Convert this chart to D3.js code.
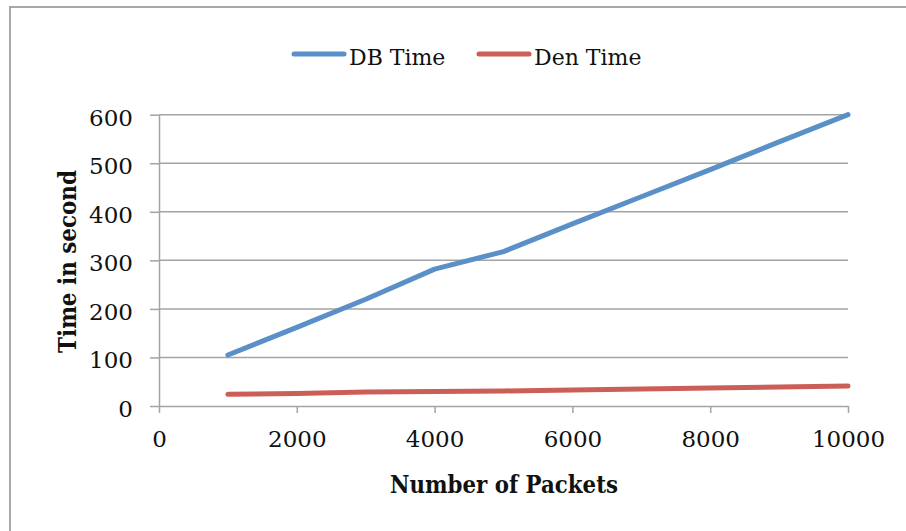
<!DOCTYPE html>
<html>
<head>
<meta charset="utf-8">
<script src="https://cdn.jsdelivr.net/npm/d3@7/dist/d3.min.js"></script>
<style>
  html, body { margin: 0; padding: 0; background: #fff; }
  svg { display: block; }
</style>
</head>
<body>
<svg id="chart" width="906" height="531"></svg>
<script>
// Packet counts on the x axis
const packets = [1000, 2000, 3000, 4000, 5000, 6000, 7000, 8000, 9000, 10000];
// Processing times in seconds
const dbTime  = [105, 162, 220, 282, 318, 375, 431, 487, 544, 600];
const denTime = [24, 26, 29, 30, 31, 33, 35, 37, 39, 41];
// Axis ticks
const xTicks = [0, 2000, 4000, 6000, 8000, 10000];
const yTicks = [0, 100, 200, 300, 400, 500, 600];

const seriesNames = ["DB Time", "Den Time"];
const seriesColors = ["#5a8fc8", "#cb5f58"];
const seriesValues = [dbTime, denTime];

const svg = d3.select("#chart");
const font = "'DejaVu Serif', serif";
const gridColor = "#a3a3a3";

// outer frame
svg.append("rect")
  .attr("x", 10).attr("y", 7)
  .attr("width", 920).attr("height", 560)
  .attr("fill", "none").attr("stroke", "#a8a8a8").attr("stroke-width", 2);

const x = d3.scaleLinear().domain([0, 10000]).range([159, 848]);
const y = d3.scaleLinear().domain([0, 600]).range([406, 114.7]);

// horizontal gridlines
svg.append("g")
  .selectAll("line")
  .data(yTicks.filter(d => d > 0))
  .join("line")
  .attr("x1", x(0)).attr("x2", x(10000))
  .attr("y1", d => y(d)).attr("y2", d => y(d))
  .attr("stroke", gridColor).attr("stroke-width", 1.5);

// y axis
const yAxis = svg.append("g")
  .attr("transform", `translate(${x(0)},0)`)
  .call(d3.axisLeft(y).tickValues(yTicks).tickFormat(d3.format("d"))
    .tickSize(9).tickPadding(17).tickSizeOuter(0));
yAxis.select(".domain").attr("stroke", gridColor).attr("stroke-width", 1.5);
yAxis.selectAll(".tick line").attr("stroke", gridColor).attr("stroke-width", 1.5);
yAxis.selectAll(".tick text")
  .attr("font-family", font).attr("font-size", 23).attr("fill", "#111")
  .attr("dy", "0.45em");

// x axis
const xAxis = svg.append("g")
  .attr("transform", `translate(0,${y(0)})`)
  .call(d3.axisBottom(x).tickValues(xTicks).tickFormat(d3.format("d"))
    .tickSize(7).tickPadding(18).tickSizeOuter(0));
xAxis.select(".domain").attr("stroke", gridColor).attr("stroke-width", 1.5);
xAxis.selectAll(".tick line").attr("stroke", gridColor).attr("stroke-width", 1.5);
xAxis.selectAll(".tick text")
  .attr("font-family", font).attr("font-size", 23).attr("fill", "#111");

// series lines
const line = d3.line()
  .x((d, i) => x(packets[i]))
  .y(d => y(d));

seriesValues.forEach((vals, k) => {
  svg.append("path")
    .datum(vals)
    .attr("d", line)
    .attr("fill", "none")
    .attr("stroke", seriesColors[k])
    .attr("stroke-width", 5)
    .attr("stroke-linejoin", "round")
    .attr("stroke-linecap", "round");
});

// axis titles
svg.append("text")
  .attr("x", 504).attr("y", 493)
  .attr("text-anchor", "middle")
  .attr("font-family", font).attr("font-weight", "bold").attr("font-size", 24)
  .attr("textLength", 228).attr("lengthAdjust", "spacingAndGlyphs")
  .attr("fill", "#111")
  .text("Number of Packets");

svg.append("text")
  .attr("transform", "translate(76,261.5) rotate(-90)")
  .attr("text-anchor", "middle")
  .attr("font-family", font).attr("font-weight", "bold").attr("font-size", 25)
  .attr("textLength", 183).attr("lengthAdjust", "spacingAndGlyphs")
  .attr("fill", "#111")
  .text("Time in second");

// legend
const legendX = [292, 477];
const legend = svg.append("g");
seriesNames.forEach((name, k) => {
  legend.append("line")
    .attr("x1", legendX[k] + 2).attr("x2", legendX[k] + 52)
    .attr("y1", 54).attr("y2", 54)
    .attr("stroke", seriesColors[k]).attr("stroke-width", 5)
    .attr("stroke-linecap", "round");
  legend.append("text")
    .attr("x", legendX[k] + 57).attr("y", 65)
    .attr("font-family", font).attr("font-size", 22)
    .attr("fill", "#111")
    .text(name);
});
</script>
</body>
</html>
